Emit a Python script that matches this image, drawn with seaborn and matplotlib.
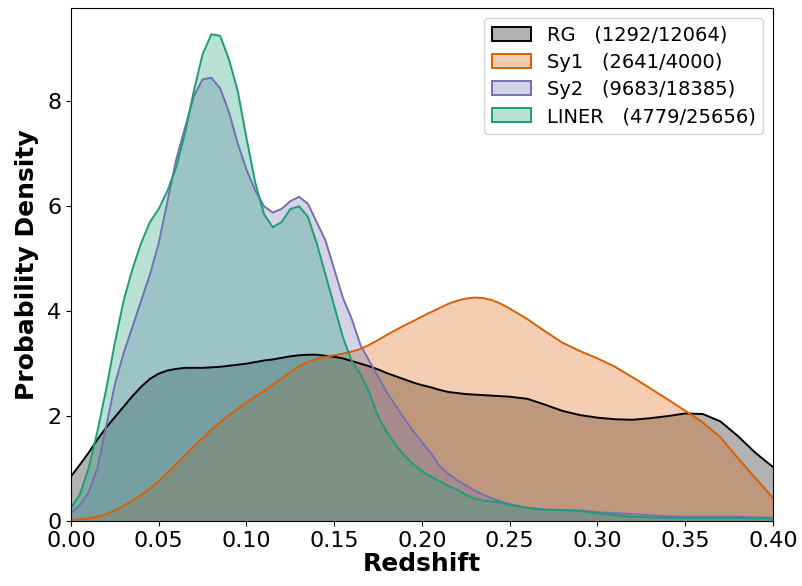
import matplotlib
matplotlib.use("Agg")
import matplotlib.pyplot as plt
from matplotlib.patches import Patch
import seaborn as sns
import pandas as pd

redshift = [0.000, 0.005, 0.010, 0.015, 0.020, 0.025, 0.030, 0.035, 0.040, 0.045,
            0.050, 0.055, 0.060, 0.065, 0.070, 0.075, 0.080, 0.085, 0.090, 0.095,
            0.100, 0.105, 0.110, 0.115, 0.120, 0.125, 0.130, 0.135, 0.140, 0.145,
            0.150, 0.155, 0.160, 0.165, 0.170, 0.175, 0.180, 0.185, 0.190, 0.195,
            0.200, 0.205, 0.210, 0.215, 0.220, 0.225, 0.230, 0.235, 0.240, 0.245,
            0.250, 0.260, 0.270, 0.280, 0.290, 0.300, 0.310, 0.320, 0.330, 0.340,
            0.350, 0.360, 0.370, 0.380, 0.390, 0.400]

rg = [0.85, 1.07, 1.30, 1.55, 1.78, 1.98, 2.18, 2.38, 2.56, 2.71,
      2.81, 2.87, 2.90, 2.92, 2.92, 2.92, 2.93, 2.94, 2.96, 2.98,
      3.00, 3.03, 3.06, 3.08, 3.11, 3.14, 3.16, 3.17, 3.17, 3.15,
      3.13, 3.10, 3.05, 3.00, 2.95, 2.89, 2.82, 2.76, 2.70, 2.64,
      2.59, 2.55, 2.50, 2.46, 2.44, 2.42, 2.41, 2.40, 2.39, 2.38,
      2.37, 2.33, 2.22, 2.10, 2.02, 1.97, 1.94, 1.93, 1.96, 2.00,
      2.05, 2.04, 1.90, 1.62, 1.30, 1.03]

sy1 = [0.02, 0.03, 0.05, 0.08, 0.13, 0.20, 0.29, 0.39, 0.50, 0.62,
       0.76, 0.92, 1.08, 1.25, 1.42, 1.58, 1.74, 1.88, 2.02, 2.14,
       2.26, 2.37, 2.48, 2.60, 2.72, 2.84, 2.95, 3.03, 3.09, 3.13,
       3.16, 3.19, 3.23, 3.28, 3.36, 3.45, 3.55, 3.64, 3.73, 3.81,
       3.90, 3.98, 4.06, 4.14, 4.20, 4.24, 4.26, 4.25, 4.21, 4.14,
       4.05, 3.85, 3.62, 3.40, 3.24, 3.10, 2.94, 2.74, 2.53, 2.32,
       2.10, 1.88, 1.60, 1.20, 0.82, 0.44]

sy2 = [0.15, 0.30, 0.55, 1.00, 1.80, 2.60, 3.20, 3.70, 4.20, 4.70,
       5.30, 6.10, 6.90, 7.50, 8.10, 8.42, 8.45, 8.25, 7.80, 7.20,
       6.70, 6.30, 6.00, 5.88, 5.95, 6.10, 6.18, 6.05, 5.70, 5.35,
       4.80, 4.25, 3.85, 3.35, 3.05, 2.75, 2.45, 2.20, 1.95, 1.72,
       1.50, 1.30, 1.05, 0.90, 0.78, 0.68, 0.58, 0.50, 0.43, 0.37,
       0.32, 0.25, 0.22, 0.21, 0.20, 0.17, 0.15, 0.13, 0.11, 0.09,
       0.08, 0.08, 0.08, 0.08, 0.07, 0.06]

liner = [0.25, 0.50, 1.00, 1.70, 2.50, 3.40, 4.20, 4.80, 5.30, 5.70,
         5.95, 6.30, 6.75, 7.40, 8.20, 8.90, 9.28, 9.25, 8.80, 8.20,
         7.30, 6.45, 5.85, 5.60, 5.70, 5.95, 6.00, 5.80, 5.30, 4.70,
         4.10, 3.50, 3.05, 2.80, 2.45, 2.00, 1.70, 1.45, 1.25, 1.08,
         0.95, 0.85, 0.76, 0.67, 0.60, 0.50, 0.43, 0.39, 0.37, 0.35,
         0.31, 0.25, 0.21, 0.21, 0.19, 0.15, 0.11, 0.08, 0.07, 0.06,
         0.06, 0.06, 0.06, 0.06, 0.05, 0.05]

labels = ["RG   (1292/12064)", "Sy1   (2641/4000)", "Sy2   (9683/18385)", "LINER   (4779/25656)"]
colors = ["#000000", "#d95f02", "#7570b3", "#1b9e77"]
series = [rg, sy1, sy2, liner]

fig = plt.figure(figsize=(8.03, 5.86), dpi=100)
ax = fig.add_axes([0.0884, 0.1109, 0.8742, 0.8754])

handles = []
for lab, col, vals in zip(labels, colors, series):
    df = pd.DataFrame({"z": redshift, "d": vals})
    ax.fill_between(df["z"], 0, df["d"], color=col, alpha=0.3, linewidth=0)
    sns.lineplot(data=df, x="z", y="d", color=col, linewidth=1.4, ax=ax, legend=False)
    handles.append(Patch(facecolor=matplotlib.colors.to_rgba(col, 0.3),
                         edgecolor=col, linewidth=1.4, label=lab))

ax.set_xlim(0, 0.40)
ax.set_ylim(0, 9.78)
ax.set_xticks([0.00, 0.05, 0.10, 0.15, 0.20, 0.25, 0.30, 0.35, 0.40])
ax.set_xticklabels(["0.00", "0.05", "0.10", "0.15", "0.20", "0.25", "0.30", "0.35", "0.40"])
ax.set_yticks([0, 2, 4, 6, 8])
ax.tick_params(labelsize=16)
ax.set_xlabel("Redshift", fontsize=18, fontweight="bold", labelpad=1)
ax.set_ylabel("Probability Density", fontsize=18, fontweight="bold", labelpad=6)
ax.legend(handles=handles, loc="upper right", fontsize=14, handlelength=2.0,
          handletextpad=0.8, labelspacing=0.42, borderaxespad=0.5)

fig.savefig("out.png", dpi=100)
